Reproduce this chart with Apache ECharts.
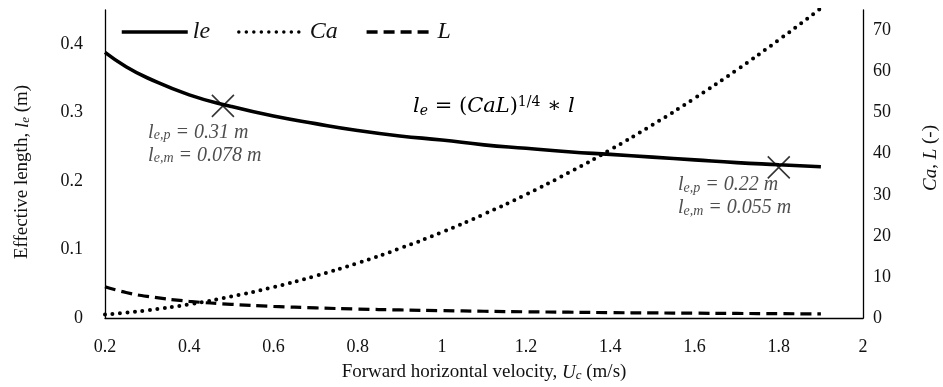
<!DOCTYPE html>
<html>
<head>
<meta charset="utf-8">
<script src="https://cdn.jsdelivr.net/npm/echarts@6/dist/echarts.min.js"></script>
<style>
  html, body { margin: 0; padding: 0; background: #fff; }
  #chart { width: 943px; height: 387px; }
</style>
</head>
<body>
<div id="chart"></div>
<script>
// Forward horizontal velocity Uc (m/s)
const velocity = [0.2, 0.25, 0.3, 0.4, 0.5, 0.6, 0.7, 0.8, 0.9, 1.0, 1.1, 1.2, 1.3, 1.4, 1.5, 1.6, 1.7, 1.8, 1.9];
// Effective length le (m)
const effectiveLength = [0.388, 0.367, 0.351, 0.326, 0.309, 0.295, 0.284, 0.274, 0.266, 0.260, 0.253, 0.248, 0.243, 0.239, 0.235, 0.231, 0.227, 0.224, 0.221];
// Cauchy number Ca (-)
const cauchy = [0.84, 1.31, 1.88, 3.34, 5.23, 7.52, 10.24, 13.38, 16.93, 20.9, 25.29, 30.10, 35.32, 40.96, 47.03, 53.50, 60.40, 67.72, 75.45];
// Length ratio L (-)
const lengthRatio = [7.6, 6.22, 5.27, 4.07, 3.33, 2.83, 2.46, 2.18, 1.96, 1.79, 1.64, 1.51, 1.41, 1.31, 1.24, 1.17, 1.11, 1.05, 1.00];

// Highlighted prototype points and their model-scale lengths
const markVelocity = [0.48, 1.8];
const markPrototype = [0.31, 0.22];
const markModel = [0.078, 0.055];

const seriesNames = ['le', 'Ca', 'L'];
const leftTicks = [0, 0.1, 0.2, 0.3, 0.4];
const rightTicks = [0, 10, 20, 30, 40, 50, 60, 70];

const SERIF = '"Liberation Serif", "Times New Roman", serif';
const MATH = '"DejaVu Serif", "Liberation Serif", serif';
const INK = '#111';

function pairs(xs, ys) { return xs.map((x, i) => [x, ys[i]]); }

const markLabelOffsets = [[-63, 27], [-89, 18]];
const markData = markVelocity.map((v, i) => ({
  value: [v, markPrototype[i]],
  label: {
    show: true,
    position: markLabelOffsets[i],
    align: 'left',
    verticalAlign: 'top',
    formatter: '{i|l}{s|e,p}{i| = ' + markPrototype[i] + ' m}\n{i|l}{s|e,m}{i| = ' + markModel[i] + ' m}',
    rich: {
      i: { fontFamily: SERIF, fontStyle: 'italic', fontSize: 20, color: '#222', lineHeight: 23 },
      s: { fontFamily: SERIF, fontStyle: 'italic', fontSize: 14, color: '#222', lineHeight: 23, padding: [6, 0, 0, 0] }
    }
  }
}));

const axisLine = { show: true, lineStyle: { color: '#000', width: 1.3 } };
const tickFont = { fontFamily: SERIF, fontSize: 18, color: INK };

const option = {
  animation: false,
  backgroundColor: '#fff',
  grid: { left: 105, right: 80, top: 10, bottom: 69, containLabel: false, outerBoundsMode: 'none' },
  legend: {
    data: seriesNames,
    left: 115,
    top: 15,
    itemWidth: 66,
    itemHeight: 14,
    itemGap: 27,
    itemStyle: { opacity: 0 },
    lineStyle: { width: 3.5 },
    textStyle: { fontFamily: SERIF, fontStyle: 'italic', fontSize: 24, color: INK }
  },
  xAxis: {
    type: 'value',
    min: 0.2, max: 2, interval: 0.2,
    axisLine: axisLine,
    axisTick: { show: false },
    splitLine: { show: false },
    axisLabel: Object.assign({ margin: 20 }, tickFont),
    name: 'Forward horizontal velocity, {i|U}{s|c} (m/s)',
    nameLocation: 'middle',
    nameGap: 45,
    nameTextStyle: {
      fontFamily: SERIF, fontSize: 19, color: INK,
      rich: {
        i: { fontFamily: SERIF, fontStyle: 'italic', fontSize: 19, color: INK },
        s: { fontFamily: SERIF, fontStyle: 'italic', fontSize: 13, color: INK, padding: [6, 0, 0, 0] }
      }
    }
  },
  yAxis: [
    {
      type: 'value',
      position: 'left',
      min: 0, max: 0.45, interval: 0.1,
      axisLine: axisLine,
      axisTick: { show: false },
      splitLine: { show: false },
      axisLabel: Object.assign({
        margin: 22,
        formatter: v => (leftTicks.some(t => Math.abs(t - v) < 1e-6) ? String(+v.toFixed(1)) : '')
      }, tickFont),
      name: 'Effective length, {i|l}{s|e} (m)',
      nameLocation: 'middle',
      nameRotate: 90,
      nameGap: 73,
      nameTextStyle: {
        fontFamily: SERIF, fontSize: 19, color: INK,
        padding: [0, 16, 0, 0],
        rich: {
          i: { fontFamily: SERIF, fontStyle: 'italic', fontSize: 19, color: INK },
          s: { fontFamily: SERIF, fontStyle: 'italic', fontSize: 13, color: INK, padding: [6, 0, 0, 0] }
        }
      }
    },
    {
      type: 'value',
      position: 'right',
      min: 0, max: 75, interval: 10,
      axisLine: axisLine,
      axisTick: { show: false },
      splitLine: { show: false },
      axisLabel: Object.assign({
        margin: 10,
        formatter: v => (rightTicks.indexOf(v) >= 0 ? String(v) : '')
      }, tickFont),
      name: '{i|Ca}, {i|L} (-)',
      nameLocation: 'middle',
      nameRotate: 90,
      nameGap: 58,
      nameTextStyle: {
        fontFamily: SERIF, fontSize: 19, color: INK,
        padding: [0, 0, 0, 12],
        rich: { i: { fontFamily: SERIF, fontStyle: 'italic', fontSize: 19, color: INK } }
      }
    }
  ],
  series: [
    {
      name: 'le', type: 'line', yAxisIndex: 0, smooth: true, symbol: 'none',
      data: pairs(velocity, effectiveLength),
      lineStyle: { color: '#000', width: 3.6 }, itemStyle: { color: '#000' }
    },
    {
      name: 'Ca', type: 'line', yAxisIndex: 1, smooth: true, symbol: 'none', clip: true,
      data: pairs(velocity, cauchy),
      lineStyle: { color: '#000', width: 4, type: [0, 7.5], cap: 'round' }, itemStyle: { color: '#000' }
    },
    {
      name: 'L', type: 'line', yAxisIndex: 1, smooth: true, symbol: 'none',
      data: pairs(velocity, lengthRatio),
      lineStyle: { color: '#000', width: 3.2, type: [11, 6] }, itemStyle: { color: '#000' }
    },
    {
      name: 'marks', type: 'scatter', yAxisIndex: 0,
      symbol: 'path://M0,0L10,10M10,0L0,10',
      symbolSize: 22,
      itemStyle: { color: 'rgba(0,0,0,0)', borderColor: '#000', borderWidth: 1.6 },
      data: markData,
      z: 5
    }
  ],
  graphic: [
    {
      type: 'text',
      left: 413,
      top: 95,
      style: {
        text: '{i|l}{sb|e}{n| = (}{i|CaL}{n|)}{sp|1/4}{n| ∗ }{i|l}',
        rich: {
          i: { fontFamily: MATH, fontStyle: 'italic', fontSize: 21, fill: '#000', lineHeight: 30 },
          n: { fontFamily: MATH, fontSize: 21, fill: '#000', lineHeight: 30 },
          sb: { fontFamily: MATH, fontStyle: 'italic', fontSize: 14, fill: '#000', padding: [9, 0, 0, 0] },
          sp: { fontFamily: MATH, fontSize: 14, fill: '#000', padding: [0, 0, 10, 0] }
        }
      }
    }
  ]
};

const chart = echarts.init(document.getElementById('chart'), null, { renderer: 'canvas' });
chart.setOption(option);
</script>
</body>
</html>
